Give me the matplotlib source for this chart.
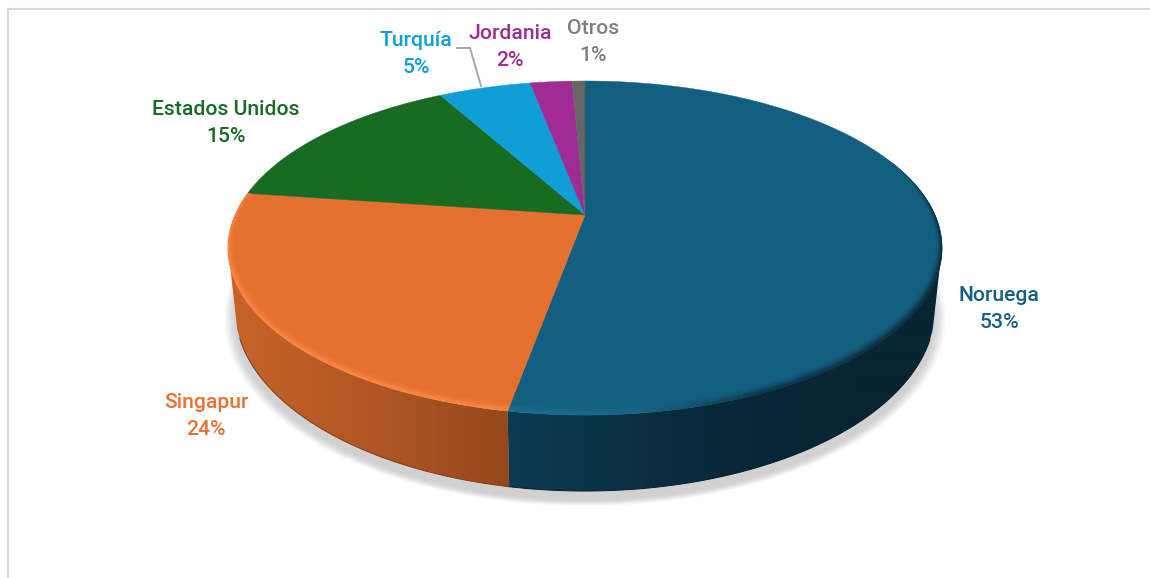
import numpy as np
import matplotlib
matplotlib.use('Agg')
import matplotlib.pyplot as plt
from matplotlib.collections import PolyCollection
from matplotlib.colors import to_rgb
from matplotlib.patches import Polygon

paises = ['Noruega', 'Singapur', 'Estados Unidos', 'Turquía', 'Jordania', 'Otros']
valores = [52.85, 24.35, 14.75, 5.05, 2.3, 0.7]
porcentajes = [53, 24, 15, 5, 2, 1]
colores = ['#145F81', '#E6702F', '#196B24', '#0F9ED5', '#A02B93', '#666666']
etiqueta_color = ['#156082', '#E97132', '#196B24', '#0F9ED5', '#A02B93', '#7F7F7F']
etiqueta_pos = [(999, 309), (206, 416), (226, 123), (416, 54), (510, 47), (593, 42)]

# perspective of the disc
cx, cy = 585, 215
a, b, k = 350.0, 160.5, 0.1976
# bottom rim
sx_base, sy_base, cy_base = 0.98, 1.09, 273

def proj(th, r=1.0, sx=1.0, sy=1.0, y0=cy):
    u = r*np.sin(th)
    v = -r*np.cos(th)
    d = 1 - k*v
    return cx + a*sx*u/d, y0 + b*sy*v/d

def mix(c1, c2, t):
    c1 = np.array(to_rgb(c1))
    c2 = np.array(to_rgb(c2))
    return tuple(c1 + (c2-c1)*t)

def grad(x, xs, cs):
    rgb = np.array([to_rgb(c) for c in cs])
    return np.stack([np.interp(x, xs, rgb[:, i]) for i in range(3)], axis=-1)

fig = plt.figure(figsize=(11.5, 5.78), dpi=100)
ax = fig.add_axes([0, 0, 1, 1])
ax.axis('off')

# frame of the pasted chart
ax.plot([7.5, 7.5, 1150], [578, 8.5, 8.5], color='#d9d9d9', lw=1.5, solid_joinstyle='miter')

# soft shadow
t = np.linspace(0, 2*np.pi, 361)
for i in range(18):
    f = 1 - i/17
    x, y = proj(t, sx=sx_base + 0.03*f, sy=sy_base + 0.03*f, y0=cy_base + 9)
    ax.fill(x, y, color='#9a9a9a', alpha=0.028, lw=0, zorder=1)

ang = np.cumsum([0] + valores) / sum(valores) * 2*np.pi

# side wall, a horizontal gradient clipped to each slice
lados = {0: ([507, 600, 720, 850], ['#0d3b54', '#0b3347', '#082838', '#082533']),
         1: ([236, 300, 400, 507], ['#c5642a', '#bc5d27', '#ab5423', '#94481c'])}
xx = np.arange(1150) + 0.5
for n in [1, 0]:
    xs, cs = lados[n]
    th = np.linspace(ang[n], ang[n+1], 300)
    th1 = th[-np.cos(th) > 0.19]
    th2 = th[-np.cos(th) > 0.3]
    x1, y1 = proj(th1)
    x2, y2 = proj(th2, sx=sx_base, sy=sy_base, y0=cy_base)
    pared = Polygon(np.c_[np.r_[x1, x2[::-1]], np.r_[y1, y2[::-1]]], closed=True, transform=ax.transData)
    im = ax.imshow(grad(xx, xs, cs)[None, :, :], extent=(0, 1150, 578, 0), aspect='auto', zorder=2, interpolation='bilinear')
    im.set_clip_path(pared)
    mask = -np.cos(th2) > 0.35
    ax.plot(x2[mask], y2[mask], color=mix(cs[-1], '#000000', 0.15), lw=0.7, zorder=2.5)

ax.set_xlim(0, 1150)
ax.set_ylim(578, 0)

# top face
for n in range(len(valores)):
    th = np.linspace(ang[n], ang[n+1], 200)
    x, y = proj(th)
    ax.fill(np.r_[cx, x], np.r_[cy, y], color=colores[n], lw=0.3, zorder=3)

# bevel on the rim
pasos = 7
for n in [0, 1]:
    th = np.linspace(ang[n], ang[n+1], 400)
    for j in range(pasos-1):
        quads = []
        cols = []
        for i in range(len(th)-1):
            v = -np.cos(th[i])
            fuerza = np.clip((v + 0.35)/0.3, 0, 1)
            if fuerza <= 0:
                continue
            w = 0.012 + 0.02*max(v, 0)
            r1 = 1 - w*j/(pasos-1)
            r2 = 1 - w*(j+1)/(pasos-1)
            x1, y1 = proj(th[i], r=r1)
            x2, y2 = proj(th[i+1], r=r1)
            x3, y3 = proj(th[i+1], r=r2)
            x4, y4 = proj(th[i], r=r2)
            if n == 1:
                borde = '#f98a48'
            else:
                borde = grad(x1, [507, 640, 760, 900], ['#1f7296', '#1a6787', '#0c3347', '#0a2c3d'])
            cols.append(mix(colores[n], borde, fuerza*(1 - j/(pasos-1))**1.2))
            quads.append([(x1, y1), (x2, y2), (x3, y3), (x4, y4)])
        ax.add_collection(PolyCollection(quads, facecolors=cols, edgecolors=cols, linewidths=0.3, zorder=4))

# leader line for Turquia
ax.plot([457, 470, 481], [48, 48, 86], color='#a6a6a6', lw=1.4, zorder=5)

for n in range(len(valores)):
    ax.text(etiqueta_pos[n][0], etiqueta_pos[n][1], f'{paises[n]}\n{porcentajes[n]}%',
            color=etiqueta_color[n], fontsize=15.2, family=['Roboto', 'DejaVu Sans'], weight='medium',
            ha='center', va='center', linespacing=1.48, zorder=6)

fig.savefig('out.png', dpi=100)
